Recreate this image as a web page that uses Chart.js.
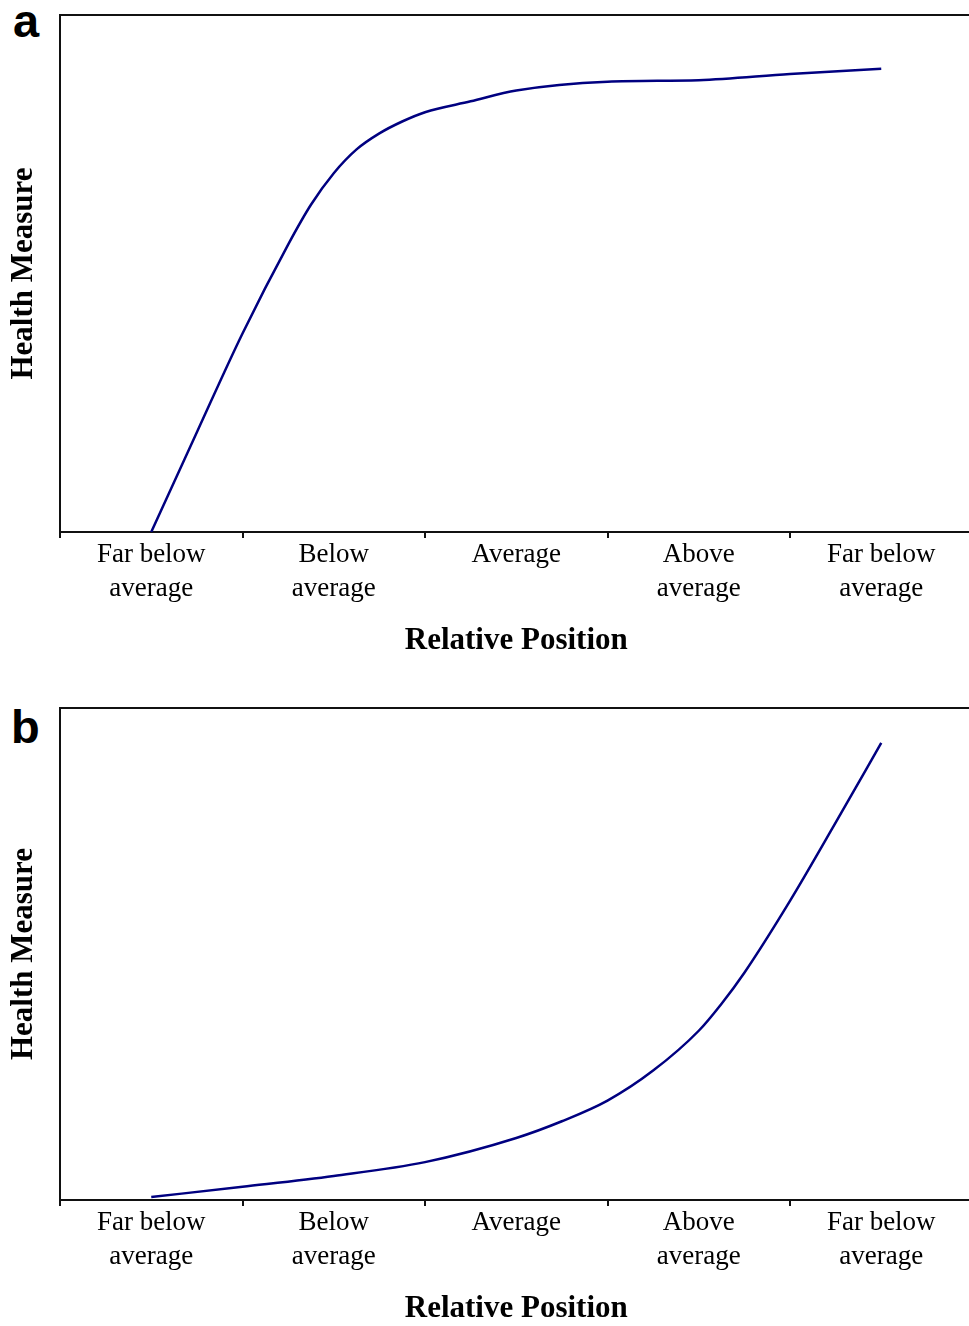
<!DOCTYPE html>
<html>
<head>
<meta charset="utf-8">
<script src="https://cdn.jsdelivr.net/npm/chart.js@4.4.1/dist/chart.umd.min.js"></script>
<style>
    html, body { margin: 0; padding: 0; background: #fff; overflow: hidden; }
    body { width: 969px; height: 1326px; position: relative; }
    .panel { position: absolute; left: 0; width: 975px; }
    .letra { position: absolute; font-family: 'Liberation Sans', Arial, sans-serif; font-weight: bold; font-size: 47px; line-height: 47px; color: #000; }
</style>
</head>
<body>
<div class="letra" style="left:13px; top:-3px;">a</div>
<div class="letra" style="left:11px; top:703px;">b</div>
<div class="panel" style="top:0; height:665px;"><canvas id="chartA"></canvas></div>
<div class="panel" style="top:693px; height:640px;"><canvas id="chartB"></canvas></div>
<script>
// categorias del eje x (una por posicion 0..4)
const categorias = [['Far below', 'average'], ['Below', 'average'], ['Average'], ['Above', 'average'], ['Far below', 'average']];

// panel a
const posicionA = [0, 0.25, 0.5, 0.75, 0.875, 1, 1.125, 1.25, 1.375, 1.5, 1.75, 2, 2.5, 3, 3.5, 4];
const saludA = [0, 19.3, 38.4, 55.6, 63.3, 69.4, 74.0, 77.1, 79.4, 81.2, 83.3, 85.4, 87.1, 87.4, 88.6, 89.6];

// panel b
const posicionB = [0, 0.5, 1, 1.5, 2, 2.25, 2.5, 2.75, 3, 3.125, 3.25, 3.5, 3.75, 4];
const saludB = [0.6, 2.7, 4.9, 7.7, 12.6, 16.0, 20.2, 26.3, 34.4, 39.9, 46.2, 60.8, 76.7, 92.9];

const serif = "'Liberation Serif', 'Times New Roman', serif";

document.addEventListener('DOMContentLoaded', () => {
    Chart.defaults.color = '#000';
    crearGrafico('chartA', posicionA, saludA);
    crearGrafico('chartB', posicionB, saludB);
});

function crearGrafico(id, xs, ys) {
    new Chart(document.getElementById(id), {
        type: 'line',
        data: {
            datasets: [{
                data: xs.map((x, i) => ({ x: x, y: ys[i] })),
                borderColor: '#000080',
                borderWidth: 2.5,
                pointRadius: 0,
                cubicInterpolationMode: 'monotone',
                fill: false
            }]
        },
        options: {
            responsive: true,
            maintainAspectRatio: false,
            animation: false,
            layout: { padding: { top: 15, left: 0, right: 2.5, bottom: 0 } },
            plugins: { legend: { display: false }, tooltip: { enabled: false } },
            scales: {
                x: {
                    type: 'linear',
                    position: 'bottom',
                    min: -0.5,
                    max: 4.5,
                    afterFit: s => { s.height = 133; },
                    border: { display: true, color: '#111', width: 2 },
                    grid: {
                        drawOnChartArea: false,
                        drawTicks: true,
                        tickLength: 6,
                        lineWidth: 2,
                        // marcas solo entre categorias
                        color: ctx => (ctx.tick && Math.abs(ctx.tick.value % 1) > 0.1) ? '#111' : 'rgba(0,0,0,0)'
                    },
                    ticks: {
                        stepSize: 0.5,
                        autoSkip: false,
                        maxTicksLimit: 30,
                        maxRotation: 0,
                        minRotation: 0,
                        padding: 0,
                        font: { family: serif, size: 27, lineHeight: 1.25 },
                        callback: v => (Math.abs(v % 1) < 0.01 && v >= 0 && v <= 4) ? categorias[Math.round(v)] : ''
                    },
                    title: {
                        display: true,
                        text: 'Relative Position',
                        font: { family: serif, size: 31, weight: 'bold', lineHeight: 1.2 },
                        padding: { top: 0, bottom: 5 }
                    }
                },
                xTop: {
                    type: 'linear',
                    position: 'top',
                    min: -0.5,
                    max: 4.5,
                    afterFit: s => { s.height = 0; },
                    border: { display: true, color: '#111', width: 2 },
                    grid: { drawOnChartArea: false, drawTicks: false, color: 'rgba(0,0,0,0)' },
                    ticks: { display: false }
                },
                y: {
                    type: 'linear',
                    min: 0,
                    max: 100,
                    afterFit: s => { s.width = 60; },
                    border: { display: true, color: '#111', width: 2 },
                    grid: { drawOnChartArea: false, drawTicks: false, color: 'rgba(0,0,0,0)' },
                    ticks: { display: false },
                    title: {
                        display: true,
                        text: 'Health Measure',
                        font: { family: serif, size: 31, weight: 'bold', lineHeight: 1.2 },
                        padding: { top: 5, bottom: 0 }
                    }
                }
            }
        }
    });
}
</script>
</body>
</html>
